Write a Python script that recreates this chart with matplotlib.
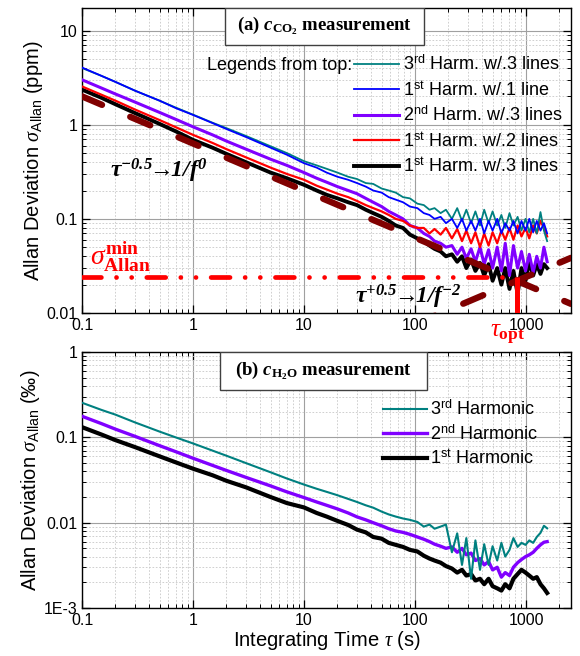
import matplotlib
matplotlib.use("Agg")
import matplotlib.pyplot as plt
from matplotlib.patches import Rectangle
from matplotlib.ticker import NullFormatter, LogLocator

plt.rcParams["font.family"] = ["Liberation Sans", "DejaVu Sans"]
plt.rcParams["mathtext.fontset"] = "custom"
plt.rcParams["mathtext.rm"] = "Liberation Serif:bold"
plt.rcParams["mathtext.it"] = "Liberation Serif:italic"
plt.rcParams["mathtext.bf"] = "Liberation Serif:bold"
plt.rcParams["mathtext.bfit"] = "Liberation Serif:italic:bold"
plt.rcParams["mathtext.sf"] = "Liberation Sans"

# integration times (s)
tau = [0.1, 0.15, 0.2, 0.3, 0.5, 0.7, 1, 1.5, 2, 3, 5, 7, 10, 13, 16, 20, 25, 30,
       36, 42, 50, 58, 67, 78, 90, 105, 120, 135, 150, 170, 190, 215, 240, 265,
       290, 320, 350, 385, 420, 460, 500, 550, 600, 650, 710, 770, 840, 910, 990,
       1070, 1160, 1250, 1350, 1450, 1550]

# (a) CO2, ppm
co2_h3_3 = [4.0, 3.3, 2.85, 2.3, 1.8, 1.52, 1.28, 1.05, 0.92, 0.76, 0.59, 0.5, 0.41,
            0.37, 0.34, 0.31, 0.28, 0.265, 0.24, 0.235, 0.21, 0.2, 0.19, 0.17, 0.165,
            0.145, 0.14, 0.125, 0.13, 0.115, 0.125, 0.1, 0.13, 0.095, 0.125, 0.09,
            0.12, 0.085, 0.125, 0.09, 0.12, 0.085, 0.11, 0.08, 0.115, 0.085, 0.105,
            0.075, 0.1, 0.072, 0.1, 0.07, 0.118, 0.075, 0.058]
co2_h1_1 = [4.05, 3.3, 2.85, 2.3, 1.8, 1.5, 1.27, 1.04, 0.9, 0.74, 0.57, 0.48, 0.39,
            0.35, 0.31, 0.28, 0.26, 0.24, 0.22, 0.2, 0.19, 0.17, 0.16, 0.15, 0.135,
            0.13, 0.115, 0.11, 0.1, 0.105, 0.09, 0.1, 0.08, 0.1, 0.075, 0.095, 0.075,
            0.1, 0.07, 0.095, 0.075, 0.1, 0.07, 0.09, 0.075, 0.095, 0.07, 0.095,
            0.075, 0.1, 0.072, 0.095, 0.075, 0.09, 0.07]
co2_h2_3 = [3.0, 2.45, 2.12, 1.74, 1.35, 1.14, 0.95, 0.78, 0.67, 0.55, 0.43, 0.37,
            0.31, 0.27, 0.245, 0.22, 0.2, 0.185, 0.165, 0.15, 0.135, 0.12, 0.11, 0.1,
            0.085, 0.08, 0.07, 0.065, 0.058, 0.055, 0.05, 0.052, 0.042, 0.05, 0.038,
            0.048, 0.035, 0.05, 0.033, 0.047, 0.03, 0.05, 0.028, 0.055, 0.025, 0.052,
            0.03, 0.045, 0.028, 0.042, 0.027, 0.04, 0.03, 0.05, 0.035]
co2_h1_2 = [2.55, 2.08, 1.8, 1.45, 1.12, 0.94, 0.78, 0.64, 0.55, 0.45, 0.35, 0.3,
            0.26, 0.225, 0.205, 0.185, 0.17, 0.155, 0.14, 0.13, 0.12, 0.11, 0.1,
            0.095, 0.085, 0.08, 0.08, 0.07, 0.078, 0.068, 0.08, 0.062, 0.078, 0.058,
            0.075, 0.055, 0.072, 0.05, 0.07, 0.052, 0.072, 0.055, 0.075, 0.06, 0.08,
            0.06, 0.085, 0.065, 0.08, 0.062, 0.085, 0.07, 0.095, 0.08, 0.065]
co2_h1_3 = [2.36, 1.93, 1.65, 1.33, 1.02, 0.85, 0.69, 0.57, 0.49, 0.4, 0.31, 0.27,
            0.23, 0.2, 0.18, 0.165, 0.15, 0.14, 0.125, 0.115, 0.105, 0.095, 0.085,
            0.08, 0.068, 0.062, 0.058, 0.052, 0.048, 0.045, 0.04, 0.042, 0.035, 0.04,
            0.03, 0.037, 0.028, 0.034, 0.025, 0.033, 0.022, 0.03, 0.02, 0.03, 0.018,
            0.028, 0.016, 0.03, 0.022, 0.035, 0.025, 0.033, 0.026, 0.033, 0.03]

# guide lines
fall_tau = [0.1, 2540]
fall_val = [2.0, 0.0125]
rise_tau = [100, 2540]
rise_val = [0.0076, 0.0385]
sigma_min = 0.0241
tau_opt = 830

# (b) H2O, permil
h2o_h3 = [0.255, 0.21, 0.185, 0.15, 0.117, 0.1, 0.085, 0.07, 0.061, 0.05, 0.039,
          0.033, 0.028, 0.025, 0.023, 0.021, 0.019, 0.0175, 0.016, 0.015, 0.0135,
          0.0125, 0.0118, 0.0112, 0.0108, 0.0102, 0.009, 0.0095, 0.0085, 0.009,
          0.0095, 0.0045, 0.0075, 0.0032, 0.0066, 0.0022, 0.0062, 0.0028, 0.0056,
          0.0032, 0.0053, 0.0036, 0.0058, 0.004, 0.0048, 0.0066, 0.0052, 0.0058,
          0.0055, 0.0062, 0.0058, 0.0068, 0.0076, 0.0092, 0.0086]
h2o_h2 = [0.177, 0.145, 0.125, 0.103, 0.08, 0.068, 0.057, 0.047, 0.041, 0.034, 0.027,
          0.023, 0.0197, 0.0175, 0.016, 0.0145, 0.013, 0.0117, 0.0108, 0.01, 0.0092,
          0.0085, 0.008, 0.0077, 0.0073, 0.0068, 0.0064, 0.006, 0.0056, 0.0053, 0.005,
          0.0052, 0.0045, 0.005, 0.0042, 0.0044, 0.0036, 0.0038, 0.0032, 0.0035,
          0.0028, 0.003, 0.0023, 0.0026, 0.0024, 0.003, 0.0034, 0.0037, 0.004, 0.0042,
          0.0045, 0.005, 0.0055, 0.0059, 0.006]
h2o_h1 = [0.132, 0.108, 0.093, 0.077, 0.06, 0.051, 0.043, 0.036, 0.031, 0.026, 0.02,
          0.017, 0.0151, 0.013, 0.0118, 0.0105, 0.0094, 0.0083, 0.0077, 0.0068,
          0.0065, 0.0058, 0.0055, 0.0052, 0.0048, 0.0046, 0.0041, 0.0038, 0.0036,
          0.0034, 0.0031, 0.0029, 0.0026, 0.0028, 0.0024, 0.0025, 0.0021, 0.0022,
          0.0019, 0.0022, 0.0018, 0.0017, 0.0016, 0.0019, 0.0017, 0.0022, 0.0025,
          0.0028, 0.0026, 0.0024, 0.0022, 0.0023, 0.0019, 0.0017, 0.0015]

xticks = [0.1, 1, 10, 100, 1000]
xticklabels = ["0.1", "1", "10", "100", "1000"]

TEAL = "#008080"
BLUE = "#0000ff"
VIOLET = "#8000ff"
RED = "#ff0000"
MAROON = "#800000"

fig = plt.figure(figsize=(5.8, 6.56), dpi=100)
ax1 = fig.add_axes([0.1414, 0.5229, 0.843, 0.465])
ax2 = fig.add_axes([0.1414, 0.0732, 0.843, 0.390])


def style(ax):
    ax.set_xscale("log")
    ax.set_yscale("log")
    ax.set_xlim(0.1, 2540)
    ax.xaxis.set_minor_locator(LogLocator(base=10, subs=range(2, 10), numticks=20))
    ax.yaxis.set_minor_locator(LogLocator(base=10, subs=range(2, 10), numticks=20))
    ax.xaxis.set_minor_formatter(NullFormatter())
    ax.yaxis.set_minor_formatter(NullFormatter())
    ax.grid(which="major", color="#a0a0a0", lw=0.8, ls="-")
    ax.grid(which="minor", color="#c8c8c8", lw=0.6, ls=(0, (2, 2)))
    ax.set_axisbelow(True)
    ax.tick_params(which="both", direction="in", top=True, right=True,
                   labelsize=11.5, colors="black")
    ax.tick_params(which="major", length=6, width=0.9)
    ax.tick_params(which="minor", length=3, width=0.7)
    ax.set_xticks(xticks)
    ax.set_xticklabels(xticklabels)
    for s in ax.spines.values():
        s.set_linewidth(1.0)


style(ax1)
style(ax2)

# ---- panel (a)
ax1.set_ylim(0.01, 17.4)
ax1.set_yticks([0.01, 0.1, 1, 10])
ax1.set_yticklabels(["0.01", "0.1", "1", "10"])

ax1.plot(tau, co2_h1_3, color="black", lw=2.8, zorder=2,
         label=r"1$^{\mathsf{st}}$ Harm. w/.3 lines")
ax1.plot(tau, co2_h2_3, color=VIOLET, lw=2.2, zorder=3,
         label=r"2$^{\mathsf{nd}}$ Harm. w/.3 lines")
ax1.plot(tau, co2_h1_2, color=RED, lw=1.6, zorder=4,
         label=r"1$^{\mathsf{st}}$ Harm. w/.2 lines")
ax1.plot(tau, co2_h3_3, color=TEAL, lw=1.3, zorder=5,
         label=r"3$^{\mathsf{rd}}$ Harm. w/.3 lines")
ax1.plot(tau, co2_h1_1, color=BLUE, lw=1.3, zorder=6,
         label=r"1$^{\mathsf{st}}$ Harm. w/.1 line")

ax1.plot(fall_tau, fall_val, color=MAROON, lw=4.6, dashes=(3.4, 4.8),
         dash_capstyle="round", zorder=7)
ax1.plot(rise_tau, rise_val, color=MAROON, lw=4.6, dashes=(3.4, 4.8),
         dash_capstyle="round", zorder=7)
ax1.plot([0.1, tau_opt], [sigma_min, sigma_min], color=RED, lw=3.4,
         dashes=(4, 3.2, 0.01, 3.2, 0.01, 3.2), dash_capstyle="round", zorder=8)
ax1.plot([tau_opt, tau_opt], [sigma_min, 0.01], color=RED, lw=3.6,
         solid_capstyle="butt", zorder=8)

handles, labels = ax1.get_legend_handles_labels()
order = [3, 4, 1, 2, 0]
leg = ax1.legend([handles[i] for i in order], [labels[i] for i in order],
                 loc="upper left", bbox_to_anchor=(0.556, 0.847), frameon=False,
                 fontsize=13, handlelength=2.5, handletextpad=0.2,
                 labelspacing=0.36, borderpad=0, borderaxespad=0)
leg.set_zorder(10)
ax1.text(0.552, 0.812, "Legends from top:", transform=ax1.transAxes,
         ha="right", va="center", fontsize=13)

ax1.add_patch(Rectangle((0.292, 0.879), 0.407, 0.121, transform=ax1.transAxes,
                        facecolor="white", edgecolor="#404040", lw=1.0, zorder=11))
ax1.text(0.496, 0.94, r"(a) $\mathbfit{c}_{\mathbf{CO_2}}$ measurement",
         transform=ax1.transAxes, ha="center", va="center", fontsize=13.5,
         family="Liberation Serif", weight="bold", zorder=12)

ax1.text(0.18, 0.32, r"$\mathbfit{\tau^{-0.5}\!\!\rightarrow\!\!1/f^{0}}$",
         fontsize=17, ha="left", va="center", zorder=12)
ax1.text(29, 0.0148, r"$\mathbfit{\tau^{+0.5}\!\!\rightarrow\!\!1/f^{-2}}$",
         fontsize=17, ha="left", va="center", zorder=12)
ax1.text(0.118, 0.0262, r"$\sigma^{\mathbf{min}}_{\mathbf{Allan}}$",
         fontsize=20, color=RED, ha="left", va="bottom", zorder=12)
ax1.text(690, 0.0078, r"$\tau_{\mathbf{opt}}$", fontsize=18, color=RED,
         ha="center", va="top", clip_on=False, zorder=12)

ax1.set_ylabel(r"Allan Deviation $\sigma_{\mathsf{Allan}}$ (ppm)", fontsize=14.5,
               labelpad=1)

# ---- panel (b)
ax2.set_ylim(0.001, 1)
ax2.set_yticks([0.001, 0.01, 0.1, 1])
ax2.set_yticklabels(["1E-3", "0.01", "0.1", "1"])

ax2.plot(tau, h2o_h1, color="black", lw=3.0, zorder=2,
         label=r"1$^{\mathsf{st}}$ Harmonic")
ax2.plot(tau, h2o_h2, color=VIOLET, lw=2.4, zorder=3,
         label=r"2$^{\mathsf{nd}}$ Harmonic")
ax2.plot(tau, h2o_h3, color=TEAL, lw=1.5, zorder=4,
         label=r"3$^{\mathsf{rd}}$ Harmonic")

handles, labels = ax2.get_legend_handles_labels()
ax2.legend(handles[::-1], labels[::-1], loc="upper left",
           bbox_to_anchor=(0.616, 0.815), frameon=False, fontsize=13,
           handlelength=2.4, handletextpad=0.2, labelspacing=0.3,
           borderpad=0, borderaxespad=0)

ax2.add_patch(Rectangle((0.282, 0.852), 0.424, 0.148, transform=ax2.transAxes,
                        facecolor="white", edgecolor="#404040", lw=1.0, zorder=11))
ax2.text(0.494, 0.926, r"(b) $\mathbfit{c}_{\mathbf{H_2O}}$ measurement",
         transform=ax2.transAxes, ha="center", va="center", fontsize=13.5,
         family="Liberation Serif", weight="bold", zorder=12)

ax2.set_ylabel(r"Allan Deviation $\sigma_{\mathsf{Allan}}$ (‰)", fontsize=14.5,
               labelpad=1)
ax2.set_xlabel(r"Integrating Time $\tau$ (s)", fontsize=14.5, labelpad=1)

fig.savefig("out.png", dpi=100)
